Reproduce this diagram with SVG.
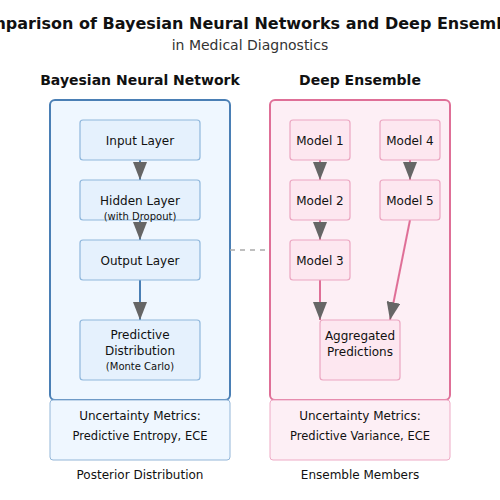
<svg xmlns="http://www.w3.org/2000/svg" width="500" height="500" viewBox="0 0 500 500">
<style>
text{font-family:"DejaVu Sans",sans-serif;fill:#111;text-anchor:middle}
.title{font-size:16px;font-weight:bold}
.sub{font-size:14px;fill:#333}
.head{font-size:14px;font-weight:bold}
.lbl{font-size:12px}
.small{font-size:10px}
.met{font-size:11.5px}
.bpanel{fill:#eff7ff;stroke:#4a7fb5;stroke-width:2}
.rpanel{fill:#fdeff5;stroke:#df6f97;stroke-width:2}
.bnode{fill:#e5f1fd;stroke:#8fb7dc;stroke-width:1.2}
.rnode{fill:#fde7f0;stroke:#eba6c1;stroke-width:1.2}
.bmet{fill:#eff7ff;stroke:#93b6d8;stroke-width:1}
.rmet{fill:#fdeff5;stroke:#eeaac5;stroke-width:1}
.bline{stroke:#4a7fb5;stroke-width:2;fill:none}
.rline{stroke:#df6f97;stroke-width:2;fill:none}
</style>
<defs>
<marker id="ah" markerUnits="userSpaceOnUse" markerWidth="18" markerHeight="14" refX="18" refY="7" orient="auto">
<path d="M0,0 L18,7 L0,14 Z" fill="#666"/>
</marker>
</defs>
<text class="title" x="250" y="29">Comparison of Bayesian Neural Networks and Deep Ensembles</text>
<text class="sub" x="250" y="50">in Medical Diagnostics</text>
<text class="head" x="140" y="85">Bayesian Neural Network</text>
<text class="head" x="360" y="85">Deep Ensemble</text>
<g id="bnn-panel"><rect class="bpanel" x="50" y="100" width="180" height="300" rx="5"/></g>
<g id="de-panel"><rect class="rpanel" x="270" y="100" width="180" height="300" rx="5"/></g>
<g id="connectors">
<line x1="230" y1="250" x2="270" y2="250" stroke="#aaa" stroke-width="1.5" stroke-dasharray="5,5"/>
<line class="bline" x1="140" y1="160" x2="140" y2="180" marker-end="url(#ah)"/>
<line class="bline" x1="140" y1="220" x2="140" y2="240" marker-end="url(#ah)"/>
<line class="bline" x1="140" y1="280" x2="140" y2="320" marker-end="url(#ah)"/>
<line class="rline" x1="320" y1="160" x2="320" y2="180" marker-end="url(#ah)"/>
<line class="rline" x1="320" y1="220" x2="320" y2="240" marker-end="url(#ah)"/>
<line class="rline" x1="410" y1="160" x2="410" y2="180" marker-end="url(#ah)"/>
<line class="rline" x1="320" y1="280" x2="320" y2="320" marker-end="url(#ah)"/>
<line class="rline" x1="410" y1="220" x2="390" y2="320" marker-end="url(#ah)"/>
</g>
<g id="input-layer"><rect class="bnode" x="80" y="120" width="120" height="40" rx="3"/><text class="lbl" x="140" y="145">Input Layer</text></g>
<g id="hidden-layer"><rect class="bnode" x="80" y="180" width="120" height="40" rx="3"/><text class="lbl" x="140" y="205">Hidden Layer</text><text class="small" x="140" y="220">(with Dropout)</text></g>
<g id="output-layer"><rect class="bnode" x="80" y="240" width="120" height="40" rx="3"/><text class="lbl" x="140" y="265">Output Layer</text></g>
<g id="predictive-distribution"><rect class="bnode" x="80" y="320" width="120" height="60" rx="3"/><text class="lbl" x="140" y="339">Predictive</text><text class="lbl" x="140" y="355">Distribution</text><text class="small" x="140" y="370">(Monte Carlo)</text></g>
<g id="model1"><rect class="rnode" x="290" y="120" width="60" height="40" rx="3"/><text class="lbl" x="320" y="145">Model 1</text></g>
<g id="model2"><rect class="rnode" x="290" y="180" width="60" height="40" rx="3"/><text class="lbl" x="320" y="205">Model 2</text></g>
<g id="model3"><rect class="rnode" x="290" y="240" width="60" height="40" rx="3"/><text class="lbl" x="320" y="265">Model 3</text></g>
<g id="model4"><rect class="rnode" x="380" y="120" width="60" height="40" rx="3"/><text class="lbl" x="410" y="145">Model 4</text></g>
<g id="model5"><rect class="rnode" x="380" y="180" width="60" height="40" rx="3"/><text class="lbl" x="410" y="205">Model 5</text></g>
<g id="aggregated"><rect class="rnode" x="320" y="320" width="80" height="60" rx="3"/><text class="lbl" x="360" y="340">Aggregated</text><text class="lbl" x="360" y="356">Predictions</text></g>
<g id="bnn-metrics"><rect class="bmet" x="50" y="400" width="180" height="60" rx="3"/><text class="lbl" x="140" y="420">Uncertainty Metrics:</text><text class="met" x="140" y="440">Predictive Entropy, ECE</text></g>
<g id="de-metrics"><rect class="rmet" x="270" y="400" width="180" height="60" rx="3"/><text class="lbl" x="360" y="420">Uncertainty Metrics:</text><text class="met" x="360" y="440">Predictive Variance, ECE</text></g>
<text class="lbl" x="140" y="479">Posterior Distribution</text>
<text class="lbl" x="360" y="479">Ensemble Members</text>
</svg>
